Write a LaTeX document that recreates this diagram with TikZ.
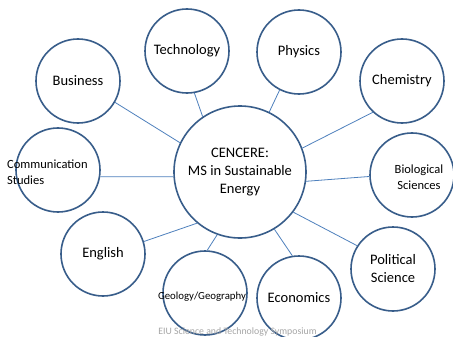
\documentclass[tikz,border=0pt]{standalone}
\usepackage{fontspec}
\setmainfont{Carlito}
\definecolor{ringblue}{HTML}{385D8A}
\definecolor{linkblue}{HTML}{4F81BD}
\definecolor{footgrey}{HTML}{A6A6A6}
\begin{document}
\begin{tikzpicture}[x=1pt,y=-1pt,
  disc/.style={circle,draw=ringblue,line width=1.6pt,minimum size=84pt,inner sep=0pt,
    font=\fontsize{14.5}{18}\selectfont,align=center},
  hub/.style={disc,minimum size=132pt},
  lbl/.style={font=\fontsize{12.5}{16}\selectfont,align=center,inner sep=0pt},
  link/.style={draw=linkblue,line width=0.8pt}]
\clip (0,0) rectangle (453,337);
\fill[white] (0,0) rectangle (453,337);
% hub
\node[hub] (c) at (240,172) {CENCERE:\\MS in Sustainable\\Energy};
% satellites
\node[disc] (tech) at (187,51) {Technology};
\node[disc] (phys) at (299,52) {Physics};
\node[disc] (bus) at (78,81) {Business};
\node[disc] (chem) at (402,81) {Chemistry};
\node[disc] (comm) at (58,170) {};
\node[lbl,align=left,anchor=west] (commt) at (7,172) {Communication\\Studies};
\node[disc] (bio) at (412,175) {};
\node[lbl] (biot) at (419,177) {Biological\\Sciences};
\node[disc] (eng) at (103,254) {English};
\node[disc] (geo) at (205,293) {};
\node[font=\fontsize{10.8}{13}\selectfont,inner sep=0pt] (geot) at (202,297) {Geology/Geography};
\node[disc] (econ) at (299,298) {Economics};
\node[disc] (pol) at (393,269) {Political\\Science};
% connectors
\draw[link] (bus.-30.7) -- (c.154.6);
\draw[link] (tech.-80.5) -- (c.124.4);
\draw[link] (phys.-117.2) -- (c.64.6);
\draw[link] (chem.-133.1) -- (c.21.6);
\draw[link] (comm.-9.5) -- (c.184.3);
\draw[link] (eng.17.2) -- (c.-130.7);
\draw[link] (geo.87.3) -- (c.-110.4);
\draw[link] (econ.99.7) -- (c.-59.5);
\draw[link] (pol.147.4) -- (c.-37.0);
\draw[link] (bio.-178.6) -- (c.-8.5);
% footer
\node[anchor=base,text=footgrey,font=\fontsize{9.8}{12}\selectfont,inner sep=0pt] (foot) at (237.5,334) {EIU Science and Technology Symposium};
\end{tikzpicture}
\end{document}
